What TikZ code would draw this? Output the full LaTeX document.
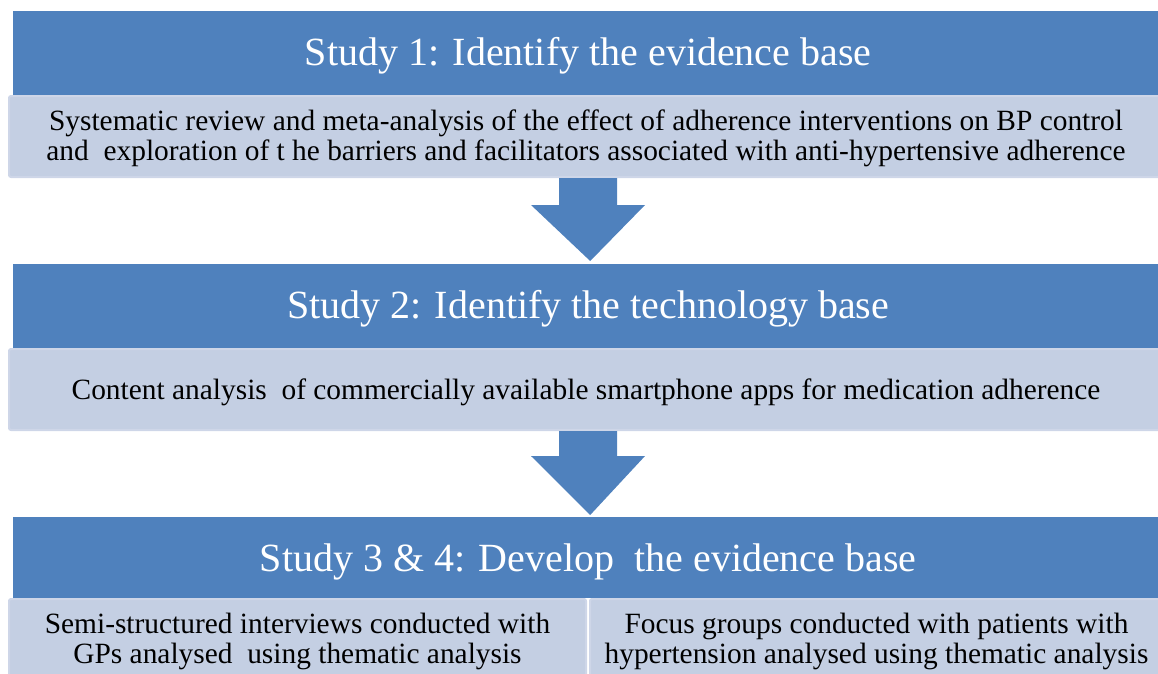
\documentclass[tikz,border=0pt]{standalone}
\usepackage{fontspec}
\setmainfont{Liberation Serif}
\usetikzlibrary{calc}
\definecolor{hdrblue}{HTML}{4F81BD}
\definecolor{panelfill}{HTML}{C4CFE3}
\definecolor{paneledge}{HTML}{CED6E8}
\begin{document}
\begin{tikzpicture}[x=1pt,y=-1pt,
  headerbox/.style={fill=hdrblue, inner sep=0pt, anchor=north west},
  panelbox/.style={fill=panelfill, draw=paneledge, line width=2pt, rounded corners=2pt,
    inner sep=0pt, anchor=north west},
  headertext/.style={text=white, font=\fontsize{40}{44}\selectfont, inner sep=0pt},
  paneltext/.style={font=\fontsize{29.4}{30}\selectfont, align=center, inner sep=0pt},
  blockarrow/.style={fill=hdrblue}]
\useasboundingbox (0,0) rectangle (1158,673);

% Study 1
\node[headerbox, minimum width=1150pt, minimum height=84pt] (h1) at (13,11) {};
\node[headertext] (h1t) at ($(h1.center)+(0,2.5)$) {Study 1: Identify the evidence base};
\node[panelbox, minimum width=1154pt, minimum height=81pt] (p1) at (8,95) {};
\node[paneltext] (p1t) at ($(p1.center)+(0,1.5)$)
  {Systematic review and meta-analysis of the effect of adherence interventions on BP control\\
   and~ exploration of t he barriers and facilitators associated with anti-hypertensive adherence};

% Study 2
\node[headerbox, minimum width=1150pt, minimum height=84pt] (h2) at (13,264) {};
\node[headertext] (h2t) at ($(h2.center)+(0,2.5)$) {Study 2: Identify the technology base};
\node[panelbox, minimum width=1154pt, minimum height=81pt] (p2) at (8,348) {};
\node[paneltext] (p2t) at ($(p2.center)+(0,2.5)$)
  {Content analysis~ of commercially available smartphone apps for medication adherence};

% Study 3 & 4
\node[headerbox, minimum width=1150pt, minimum height=81pt] (h3) at (13,517) {};
\node[headertext] (h3t) at ($(h3.center)+(0,4)$) {Study 3 \& 4: Develop~ the evidence base};
\node[panelbox, minimum width=577pt, minimum height=84pt] (p3a) at (8,598) {};
\node[paneltext] (p3at) at (p3a.center)
  {Semi-structured interviews conducted with\\ GPs analysed~ using thematic analysis};
\node[panelbox, minimum width=573pt, minimum height=84pt] (p3b) at (589,598) {};
\node[paneltext] (p3bt) at (p3b.center)
  {Focus groups conducted with patients with\\ hypertension analysed using thematic analysis};

% block arrows between the stages
\fill[blockarrow] ($(p1.south)+(-27,0)$) -- ($(p1.south)+(31,0)$)
  -- ($(p1.south)+(31,27)$) -- ($(p1.south)+(59,27)$)
  -- ($(h2.north)+(2,-3)$)
  -- ($(p1.south)+(-55,27)$) -- ($(p1.south)+(-27,27)$) -- cycle;
\fill[blockarrow] ($(p2.south)+(-27,0)$) -- ($(p2.south)+(31,0)$)
  -- ($(p2.south)+(31,25)$) -- ($(p2.south)+(59,25)$)
  -- ($(h3.north)+(2,-2)$)
  -- ($(p2.south)+(-55,25)$) -- ($(p2.south)+(-27,25)$) -- cycle;
\end{tikzpicture}
\end{document}
